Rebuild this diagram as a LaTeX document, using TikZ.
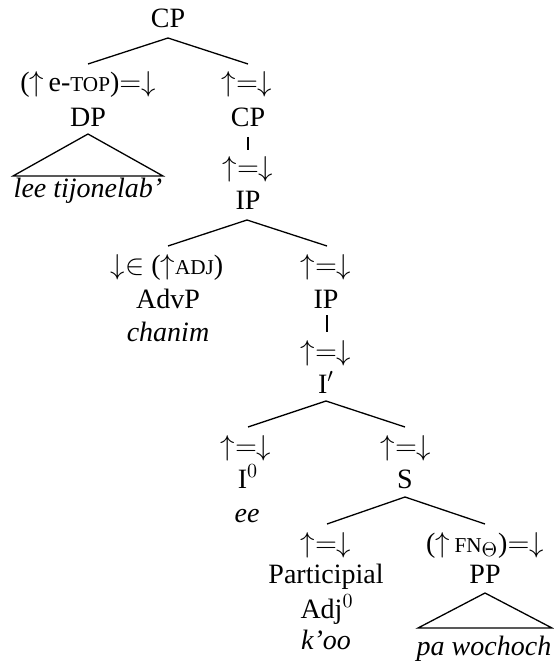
\documentclass[tikz,border=0pt]{standalone}
\usepackage{fontspec}
\setmainfont{Liberation Serif}
\newcommand{\fsc}[1]{{\fontsize{10.6}{12}\selectfont #1}}
\newcommand{\ua}{\mathord{\uparrow}}
\newcommand{\da}{\mathord{\downarrow}}
\newcommand{\ueqd}{$\ua{=}\da$}
\begin{document}
\begin{tikzpicture}[x=0.5pt,y=-0.5pt,
  every node/.style={inner sep=0pt, anchor=base, font=\fontsize{14}{16}\selectfont},
  edge/.style={line width=0.65pt}]
\useasboundingbox (0,0) rectangle (553,662);
% level 0
\node (cp) at (168,28) {CP};
\coordinate (cpA) at (168,38);
% level 1
\node (a1) at (88,92) {($\ua$\,e-\fsc{TOP})${=}\da$};
\node (a2) at (247,92) {\ueqd};
\node (dp) at (88,127) {DP};
\node (cp2) at (248,127) {CP};
\coordinate (a1t) at (88,64);
\coordinate (a2t) at (248,64);
\draw[edge] (a1t) -- (cpA) -- (a2t);
% DP triangle
\coordinate (dpA) at (88,134);
\coordinate (dpL) at (13,176);
\coordinate (dpR) at (163,176);
\draw[edge] (dpL) -- (dpA) -- (dpR) -- cycle;
\node (lee) at (88,198) {\itshape lee tijonelab'};
% CP -> IP
\coordinate (v1a) at (248,137);
\coordinate (v1b) at (248,150);
\draw[edge] (v1a) -- (v1b);
\node (a3) at (248,177) {\ueqd};
\node (ip) at (248,210) {IP};
\coordinate (ipA) at (247,220);
\coordinate (a4t) at (168,246);
\coordinate (a5t) at (327,246);
\draw[edge] (a4t) -- (ipA) -- (a5t);
\node (a4) at (167,274) {$\da{\in}$ ($\ua$\fsc{ADJ})};
\node (a5) at (326,274) {\ueqd};
\node (advp) at (168,308) {AdvP};
\node (ip2) at (326,308) {IP};
\node (chanim) at (168,341) {\itshape chanim};
\coordinate (v2a) at (327,315);
\coordinate (v2b) at (327,332);
\draw[edge] (v2a) -- (v2b);
\node (a6) at (326,360) {\ueqd};
\node (ibar) at (326,393) {I$'$};
\coordinate (ibA) at (326,401);
\coordinate (a7t) at (248,427);
\coordinate (a8t) at (405,427);
\draw[edge] (a7t) -- (ibA) -- (a8t);
\node (a7) at (246,455) {\ueqd};
\node (a8) at (406,455) {\ueqd};
\node (i0) at (248,488) {I$^0$};
\node (s) at (405,488) {S};
\node (ee) at (247,522) {\itshape ee};
\coordinate (sA) at (405,497);
\coordinate (a9t) at (327,524);
\coordinate (a10t) at (485,524);
\draw[edge] (a9t) -- (sA) -- (a10t);
\node (a9) at (326,552) {\ueqd};
\node (a10) at (485,552) {($\ua$\,\fsc{FN}$_\Theta$)${=}\da$};
\node (part) at (326,583) {Participial};
\node (pp) at (485,583) {PP};
\node (adj) at (327,618) {Adj$^0$};
\node (koo) at (326,649) {\itshape k'oo};
\coordinate (ppA) at (485,593);
\coordinate (ppL) at (418,628);
\coordinate (ppR) at (552,628);
\draw[edge] (ppL) -- (ppA) -- (ppR) -- cycle;
\node (paw) at (484,655) {\itshape pa wochoch};
\end{tikzpicture}
\end{document}
